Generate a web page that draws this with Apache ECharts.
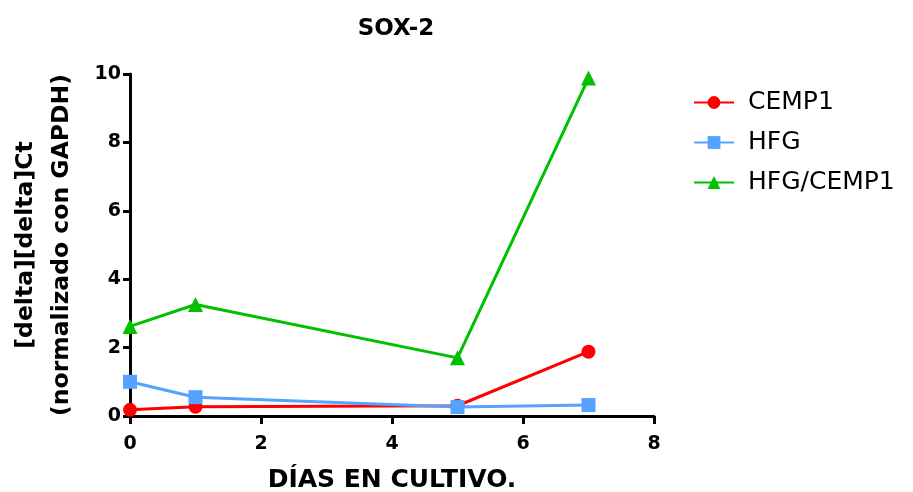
<!DOCTYPE html>
<html><head><meta charset="utf-8">
<script src="https://cdn.jsdelivr.net/npm/echarts@6/dist/echarts.min.js"></script>
<style>html,body{margin:0;padding:0;background:#fff}#c{width:913px;height:492px}</style>
</head><body><div id="c"></div>
<script>
const days = [0, 1, 5, 7];
const cemp1 = [0.18, 0.27, 0.30, 1.88];
const hfg = [1.00, 0.55, 0.26, 0.32];
const hfgCemp1 = [2.62, 3.26, 1.70, 9.88];
const seriesNames = ['CEMP1', 'HFG', 'HFG/CEMP1'];
const colors = ['#ff0000', '#55a2ff', '#00c000'];
const symbols = ['circle', 'rect', 'triangle'];
const valuesList = [cemp1, hfg, hfgCemp1];

const chart = echarts.init(document.getElementById('c'));
const font = 'DejaVu Sans, Liberation Sans, sans-serif';
chart.setOption({
  animation: false,
  title: {text: 'SOX-2', left: 391, top: 13, textAlign: 'center',
    textStyle: {fontFamily: font, fontWeight: 'bold', fontSize: 23, color: '#000'}},
  legend: {
    orient: 'vertical', left: 688, top: 85, itemGap: 15, itemWidth: 40, itemHeight: 16,
    textStyle: {fontFamily: font, fontSize: 25, lineHeight: 25, color: '#000', padding: [0,0,0,9]},
    data: seriesNames
  },
  grid: {left: 130, right: 259, top: 74, bottom: 76, containLabel: false, outerBoundsMode: 'none'},
  xAxis: {
    type: 'value', min: 0, max: 8, interval: 2,
    name: 'DÍAS EN CULTIVO.', nameLocation: 'middle', nameGap: 52,
    nameTextStyle: {fontFamily: font, fontWeight: 'bold', fontSize: 25, color: '#000'},
    axisLine: {onZero: false, lineStyle: {color: '#000', width: 3}},
    axisTick: {show: true, length: 8, lineStyle: {width: 3, color: '#000'}},
    axisLabel: {fontFamily: font, fontWeight: 'bold', fontSize: 19, color: '#000', margin: 19},
    splitLine: {show: false}
  },
  yAxis: {
    type: 'value', min: 0, max: 10, interval: 2,
    name: '[delta][delta]Ct\n(normalizado con GAPDH)', nameLocation: 'middle', nameGap: 50,
    nameTextStyle: {fontFamily: font, fontWeight: 'bold', fontSize: 23.5, color: '#000', lineHeight: 36},
    axisLine: {show: true, lineStyle: {color: '#000', width: 3}},
    axisTick: {show: true, length: 7, lineStyle: {width: 3, color: '#000'}},
    axisLabel: {fontFamily: font, fontWeight: 'bold', fontSize: 19, color: '#000', margin: 9},
    splitLine: {show: false}
  },
  series: seriesNames.map((n, i) => ({
    name: n, type: 'line',
    data: days.map((d, j) => [d, valuesList[i][j]]),
    symbol: symbols[i], symbolSize: i === 2 ? 15 : 14,
    lineStyle: {color: colors[i], width: 3},
    itemStyle: {color: colors[i]},
    z: i === 1 ? 3 : 2
  }))
});
</script></body></html>
